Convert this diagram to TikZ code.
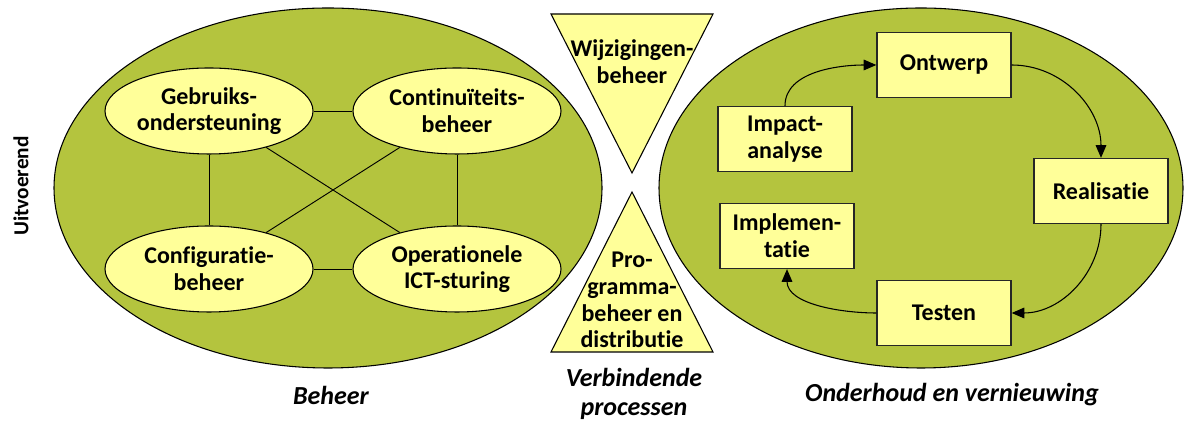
\documentclass[tikz,border=0pt]{standalone}
\usepackage{fontspec}
\setmainfont{Carlito}[Ligatures={NoCommon,NoRare}]
\usetikzlibrary{shapes.geometric,arrows.meta}
\definecolor{olive}{RGB}{180,196,62}
\definecolor{lyellow}{RGB}{255,255,153}
\tikzset{
  big/.style={ellipse,draw=black,line width=0.8pt,fill=olive,inner sep=0pt},
  proc/.style={ellipse,draw=black,line width=0.8pt,fill=lyellow,inner sep=0pt,
    minimum width=208*0.75pt,minimum height=86*0.75pt,align=center,
    font=\fontsize{18}{20}\selectfont\bfseries},
  stepbox/.style={rectangle,draw=black!85,line width=1pt,fill=lyellow,
    minimum width=134*0.75pt,minimum height=65*0.75pt,align=center,
    font=\fontsize{18}{20}\selectfont\bfseries},
  tri/.style={draw=black,line width=0.8pt,fill=lyellow},
  trilabel/.style={align=center,font=\fontsize{18}{20}\selectfont\bfseries},
  caption/.style={align=center,font=\fontsize{19.5}{22}\selectfont\bfseries\itshape},
  link/.style={draw=black,line width=0.7pt},
  flow/.style={draw=black,line width=0.8pt,-{Triangle[length=9.5pt,width=8pt]}}
}
\begin{document}
\begin{tikzpicture}[x=0.75pt,y=0.75pt]
\useasboundingbox (0,0) rectangle (1200,423);
% big ellipses
\node[big,minimum width=548*0.75pt,minimum height=360*0.75pt] (left) at (328,235) {};
\node[big,minimum width=524*0.75pt,minimum height=360*0.75pt] (right) at (921,235) {};
% left processes
\node[proc] (geb) at (209,312) {Gebruiks-\\ondersteuning};
\node[proc] (con) at (457,312) {Continuïteits-\\beheer};
\node[proc] (cfg) at (209,154) {Configuratie-\\beheer};
\node[proc] (ops) at (457,154) {Operationele\\ICT-sturing};
\path[link] (geb) -- (con);
\path[link] (geb) -- (cfg);
\path[link] (con) -- (ops);
\path[link] (cfg) -- (ops);
\path[link] (geb) -- (ops);
\path[link] (cfg) -- (con);
% triangles
\draw[tri] (551,409) -- (713,409) -- (632,250) -- cycle;
\draw[tri] (632,231) -- (713,71) -- (551,71) -- cycle;
\node[trilabel] (wijz) at (632,361) {Wijzigingen-\\beheer};
\node[trilabel] (prog) at (632,123) {Pro-\\gramma-\\beheer en\\distributie};
% right boxes
\node[stepbox] (ont) at (944,358) {Ontwerp};
\node[stepbox] (imp) at (785,284) {Impact-\\analyse};
\node[stepbox] (rea) at (1101,232) {Realisatie};
\node[stepbox] (impl) at (787,187) {Implemen-\\tatie};
\node[stepbox] (tes) at (944,110) {Testen};
\draw[flow] (imp.north) to[out=90,in=180,looseness=0.9] (ont.west);
\draw[flow] (ont.east) to[out=0,in=90,looseness=1.0] (rea.north);
\draw[flow] (rea.south) to[out=-90,in=0,looseness=1.0] (tes.east);
\draw[flow] (tes.west) to[out=180,in=-90,looseness=0.9] (impl.south);
% captions
\node[caption] (lbeh) at (331,28) {Beheer};
\node[caption] (lver) at (634,29) {Verbindende\\processen};
\node[caption] (lond) at (952,28) {Onderhoud en vernieuwing};
\node[font=\fontsize{16}{18}\selectfont\bfseries,rotate=90] (uitv) at (21,237) {Uitvoerend};
\end{tikzpicture}
\end{document}
